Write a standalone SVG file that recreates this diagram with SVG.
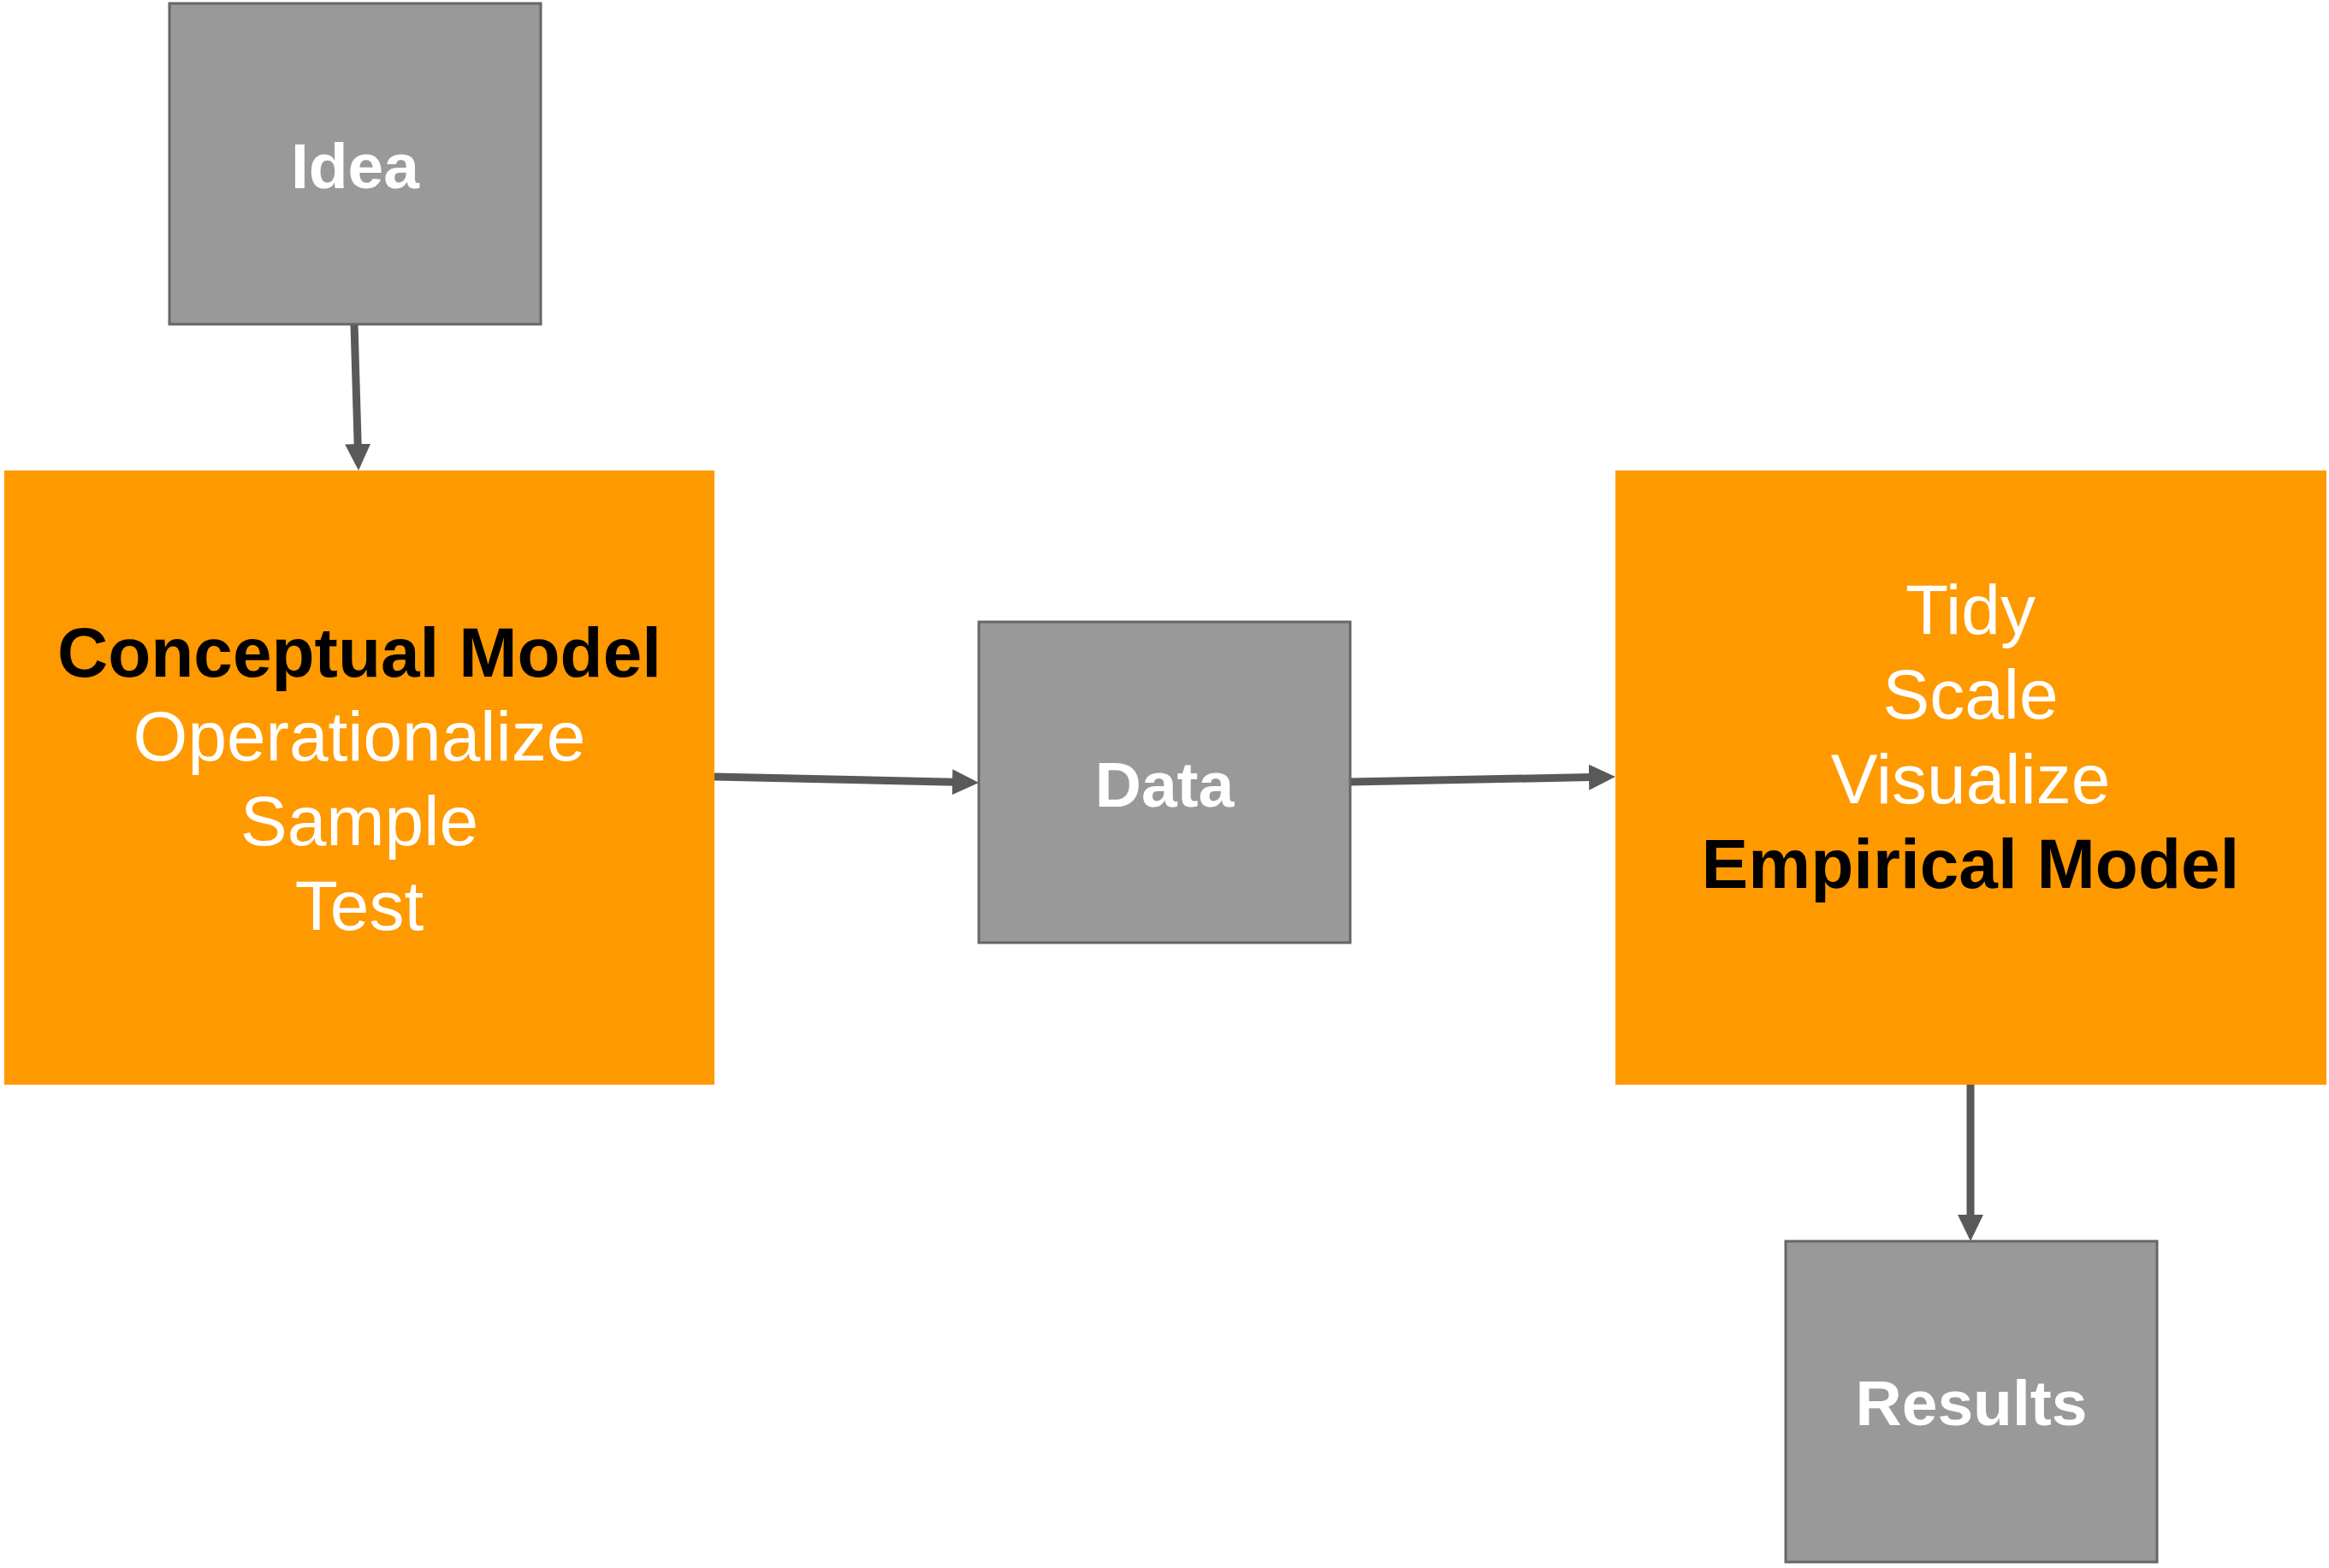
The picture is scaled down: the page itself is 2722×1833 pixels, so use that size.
<svg xmlns="http://www.w3.org/2000/svg" width="2722" height="1833" viewBox="0 0 2722 1833">
<style>
.gray{fill:#999999;stroke:#666666;stroke-width:3}
.orange{fill:#FF9900}
.lbl{font-family:"Liberation Sans",Arial,sans-serif;font-weight:bold;font-size:75px;fill:#ffffff;text-anchor:middle}
.t{font-family:"Liberation Sans",Arial,sans-serif;font-size:82px;text-anchor:middle}
.w{fill:#ffffff}
.b{fill:#000000;font-weight:bold}
.edge{stroke:#595959;stroke-width:9;fill:none;marker-end:url(#ah)}
</style>
<defs>
<marker id="ah" markerUnits="userSpaceOnUse" markerWidth="31" markerHeight="30" viewBox="-2 -15 31 30" refX="0" refY="0" orient="auto">
<path d="M-2,-15 L29,0 L-2,15 z" fill="#595959"/>
</marker>
</defs>
<rect width="2722" height="1833" fill="#ffffff"/>
<g id="connectors">
<line class="edge" x1="414" y1="379" x2="418.2" y2="521"/>
<line class="edge" x1="835" y1="908" x2="1115" y2="914.3"/>
<line class="edge" x1="1578" y1="914" x2="1859" y2="908.6"/>
<line class="edge" x1="2303" y1="1268" x2="2303" y2="1422"/>
</g>
<g id="idea">
<rect class="gray" x="198" y="4" width="434" height="375"/>
<text class="lbl" x="415" y="220">Idea</text>
</g>
<g id="conceptual">
<rect class="orange" x="5" y="550" width="830" height="718"/>
<text class="t b" x="420" y="791">Conceptual Model</text>
<text class="t w" x="420" y="889">Operationalize</text>
<text class="t w" x="420" y="988">Sample</text>
<text class="t w" x="420" y="1087">Test</text>
</g>
<g id="data">
<rect class="gray" x="1144" y="727" width="434" height="375"/>
<text class="lbl" x="1361" y="943">Data</text>
</g>
<g id="empirical">
<rect class="orange" x="1888" y="550" width="831" height="718"/>
<text class="t w" x="2303" y="741">Tidy</text>
<text class="t w" x="2303" y="840">Scale</text>
<text class="t w" x="2303" y="939">Visualize</text>
<text class="t b" x="2303" y="1038">Empirical Model</text>
</g>
<g id="results">
<rect class="gray" x="2087" y="1451" width="434" height="375"/>
<text class="lbl" x="2304" y="1666">Results</text>
</g>
</svg>
